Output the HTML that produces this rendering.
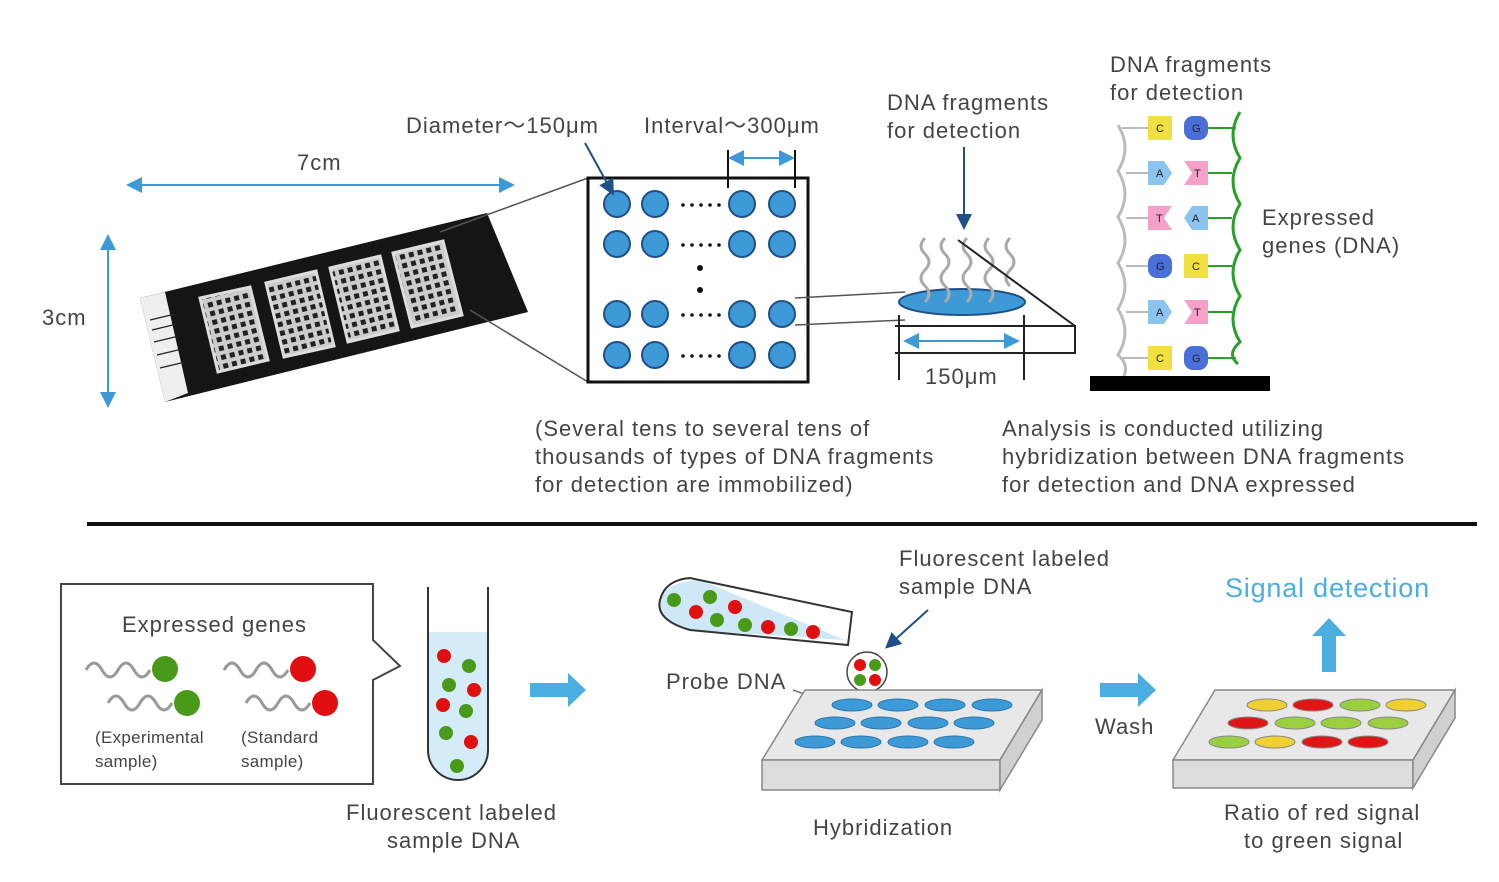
<!DOCTYPE html><html><head><style>body{margin:0;background:#fff}svg{display:block}text{font-family:"Liberation Sans",sans-serif;fill:#444;font-size:22px;letter-spacing:1px}</style></head><body>
<svg width="1499" height="882" viewBox="0 0 1499 882" xmlns="http://www.w3.org/2000/svg">
<defs>
<marker id="ab" markerWidth="8" markerHeight="8" refX="6" refY="4" orient="auto-start-reverse"><path d="M0,0L8,4L0,8z" fill="#3d9ad6"/></marker>
<marker id="ad" markerWidth="8" markerHeight="8" refX="6" refY="4" orient="auto"><path d="M0,0L8,4L0,8z" fill="#1f4f86"/></marker>
<pattern id="grid" width="9" height="9" patternUnits="userSpaceOnUse" patternTransform="rotate(-14)"><rect width="9" height="9" fill="#ccc"/><rect x="2" y="2" width="5" height="5" fill="#222"/></pattern>
</defs>
<line x1="130" y1="185" x2="511" y2="185" stroke="#3d9ad6" stroke-width="2" marker-start="url(#ab)" marker-end="url(#ab)"/>
<text x="297" y="170">7cm</text>
<line x1="108" y1="238" x2="108" y2="404" stroke="#3d9ad6" stroke-width="2" marker-start="url(#ab)" marker-end="url(#ab)"/>
<text x="42" y="325">3cm</text>
<polygon points="140,298 487,213 528,312 165,402" fill="#151515"/>
<polygon points="140,298 165,292 188,393 165,402" fill="#eee"/>
<g stroke="#222" stroke-width="1.2"><line x1="150" y1="320" x2="175" y2="314"/><line x1="152" y1="330" x2="177" y2="324"/><line x1="154" y1="342" x2="179" y2="336"/><line x1="157" y1="355" x2="182" y2="349"/><line x1="160" y1="368" x2="185" y2="362"/></g>
<g fill="url(#grid)" stroke="#ddd" stroke-width="3">
<polygon points="200,298 250,287 268,360 218,372"/>
<polygon points="266,283 316,271 334,346 284,357"/>
<polygon points="330,268 380,256 398,330 348,342"/>
<polygon points="393,253 443,241 462,315 412,327"/>
</g>
<line x1="440" y1="232" x2="588" y2="178" stroke="#555" stroke-width="1.5"/>
<line x1="470" y1="310" x2="588" y2="382" stroke="#555" stroke-width="1.5"/>
<rect x="588" y="178" width="220" height="204" fill="#fff" stroke="#111" stroke-width="3"/>
<g fill="#3d9ad6" stroke="#1f4f86" stroke-width="2">
<circle cx="617" cy="204" r="13"/><circle cx="655" cy="204" r="13"/><circle cx="742" cy="204" r="13"/><circle cx="782" cy="204" r="13"/>
<circle cx="617" cy="244" r="13"/><circle cx="655" cy="244" r="13"/><circle cx="742" cy="244" r="13"/><circle cx="782" cy="244" r="13"/>
<circle cx="617" cy="314" r="13"/><circle cx="655" cy="314" r="13"/><circle cx="742" cy="314" r="13"/><circle cx="782" cy="314" r="13"/>
<circle cx="617" cy="355" r="13"/><circle cx="655" cy="355" r="13"/><circle cx="742" cy="355" r="13"/><circle cx="782" cy="355" r="13"/>
</g>
<g fill="#111"><circle cx="700" cy="268" r="3"/><circle cx="700" cy="290" r="3"/>
<g id="dd"><circle cx="683" cy="205" r="1.8"/><circle cx="692" cy="205" r="1.8"/><circle cx="701" cy="205" r="1.8"/><circle cx="710" cy="205" r="1.8"/><circle cx="719" cy="205" r="1.8"/></g>
<use href="#dd" y="40"/><use href="#dd" y="110"/><use href="#dd" y="151"/></g>
<text x="406" y="133">Diameter～150μm</text>
<line x1="585" y1="143" x2="612" y2="192" stroke="#1f4f86" stroke-width="2" marker-end="url(#ad)"/>
<text x="644" y="133">Interval～300μm</text>
<line x1="728" y1="150" x2="728" y2="188" stroke="#111" stroke-width="2"/><line x1="795" y1="150" x2="795" y2="188" stroke="#111" stroke-width="2"/>
<line x1="732" y1="158" x2="791" y2="158" stroke="#3d9ad6" stroke-width="2" marker-start="url(#ab)" marker-end="url(#ab)"/>
<line x1="795" y1="298" x2="905" y2="292" stroke="#555" stroke-width="1.5"/>
<line x1="795" y1="325" x2="905" y2="320" stroke="#555" stroke-width="1.5"/>
<ellipse cx="962" cy="302" rx="63" ry="13" fill="#3d9ad6" stroke="#1f4f86" stroke-width="2"/>
<g fill="none" stroke="#aaa" stroke-width="3">
<path d="M925,238 q-8,8 0,16 q8,8 0,16 q-8,8 0,16 q8,8 0,16"/><path d="M945,238 q-8,8 0,16 q8,8 0,16 q-8,8 0,16 q8,8 0,16"/><path d="M967,238 q-8,8 0,16 q8,8 0,16 q-8,8 0,16 q8,8 0,16"/><path d="M989,238 q-8,8 0,16 q8,8 0,16 q-8,8 0,16 q8,8 0,16"/><path d="M1010,238 q-8,8 0,16 q8,8 0,16 q-8,8 0,16"/>
</g>
<g stroke="#222" stroke-width="2" fill="none"><line x1="958" y1="240" x2="1075" y2="326"/><path d="M895,326 H1075 V353 H895"/><line x1="899" y1="315" x2="899" y2="380"/><line x1="1024" y1="315" x2="1024" y2="380"/></g>
<line x1="907" y1="341" x2="1016" y2="341" stroke="#3d9ad6" stroke-width="2" marker-start="url(#ab)" marker-end="url(#ab)"/>
<text x="925" y="384">150μm</text>
<text x="887" y="110">DNA fragments</text><text x="887" y="138">for detection</text>
<line x1="964" y1="147" x2="964" y2="226" stroke="#1f4f86" stroke-width="2" marker-end="url(#ad)"/>
<text x="1110" y="72">DNA fragments</text><text x="1110" y="100">for detection</text>
<path d="M1118,125 q14,23 0,46 q14,23 0,46 q14,23 0,46 q14,23 0,46 q14,23 0,46 q14,12 2,28" fill="none" stroke="#bbb" stroke-width="3"/>
<path d="M1240,112 q-14,23 0,46 q-14,23 0,46 q-14,23 0,46 q-14,23 0,46 q-14,23 0,46 q-14,12 -2,22" fill="none" stroke="#2aa02a" stroke-width="3"/>
<g stroke="#bbb" stroke-width="2"><line x1="1122" y1="128" x2="1150" y2="128"/><line x1="1126" y1="173" x2="1150" y2="173"/><line x1="1126" y1="218" x2="1150" y2="218"/><line x1="1126" y1="266" x2="1150" y2="266"/><line x1="1126" y1="312" x2="1150" y2="312"/><line x1="1122" y1="358" x2="1150" y2="358"/></g>
<g stroke="#2aa02a" stroke-width="2"><line x1="1208" y1="128" x2="1236" y2="128"/><line x1="1208" y1="173" x2="1232" y2="173"/><line x1="1208" y1="218" x2="1232" y2="218"/><line x1="1208" y1="266" x2="1232" y2="266"/><line x1="1208" y1="312" x2="1232" y2="312"/><line x1="1208" y1="358" x2="1236" y2="358"/></g>
<rect x="1148" y="116" width="24" height="24" fill="#f0e040"/><rect x="1184" y="116" width="24" height="24" rx="9" fill="#4a6fd8"/>
<path d="M1148,161h16l8,12l-8,12h-16z" fill="#8cc4f0"/><path d="M1184,161h24v24h-24l8,-12z" fill="#f4a0c8"/>
<path d="M1148,206h24l-8,12l8,12h-24z" fill="#f4a0c8"/><path d="M1192,206h16v24h-16l-8,-12z" fill="#8cc4f0"/>
<rect x="1148" y="254" width="24" height="24" rx="9" fill="#4a6fd8"/><rect x="1184" y="254" width="24" height="24" fill="#f0e040"/>
<path d="M1148,300h16l8,12l-8,12h-16z" fill="#8cc4f0"/><path d="M1184,300h24v24h-24l8,-12z" fill="#f4a0c8"/>
<rect x="1148" y="346" width="24" height="24" fill="#f0e040"/><rect x="1184" y="346" width="24" height="24" rx="9" fill="#4a6fd8"/>
<g>
<text x="1156" y="132" style="font-size:11px;fill:#222;letter-spacing:0">C</text><text x="1192" y="132" style="font-size:11px;fill:#222;letter-spacing:0">G</text>
<text x="1156" y="177" style="font-size:11px;fill:#222;letter-spacing:0">A</text><text x="1194" y="177" style="font-size:11px;fill:#222;letter-spacing:0">T</text>
<text x="1156" y="222" style="font-size:11px;fill:#222;letter-spacing:0">T</text><text x="1192" y="222" style="font-size:11px;fill:#222;letter-spacing:0">A</text>
<text x="1156" y="270" style="font-size:11px;fill:#222;letter-spacing:0">G</text><text x="1192" y="270" style="font-size:11px;fill:#222;letter-spacing:0">C</text>
<text x="1156" y="316" style="font-size:11px;fill:#222;letter-spacing:0">A</text><text x="1194" y="316" style="font-size:11px;fill:#222;letter-spacing:0">T</text>
<text x="1156" y="362" style="font-size:11px;fill:#222;letter-spacing:0">C</text><text x="1192" y="362" style="font-size:11px;fill:#222;letter-spacing:0">G</text>
</g>
<rect x="1090" y="376" width="180" height="15" fill="#000"/>
<text x="1262" y="225">Expressed</text><text x="1262" y="253">genes (DNA)</text>
<text x="535" y="436">(Several tens to several tens of</text><text x="535" y="464">thousands of types of DNA fragments</text><text x="535" y="492">for detection are immobilized)</text>
<text x="1002" y="436">Analysis is conducted utilizing</text><text x="1002" y="464">hybridization between DNA fragments</text><text x="1002" y="492">for detection and DNA expressed</text>
<line x1="87" y1="524" x2="1477" y2="524" stroke="#111" stroke-width="4"/>
<path d="M61,584 H373 V640 L400,666 L373,680 V784 H61 Z" fill="#fff" stroke="#444" stroke-width="2"/>
<text x="122" y="632">Expressed genes</text>
<g fill="none" stroke="#999" stroke-width="3">
<path d="M86,670 q8,-14 16,0 q8,14 16,0 q8,-14 16,0 q8,14 16,0"/><path d="M108,703 q8,-14 16,0 q8,14 16,0 q8,-14 16,0 q8,14 16,0"/>
<path d="M224,670 q8,-14 16,0 q8,14 16,0 q8,-14 16,0 q8,14 16,0"/><path d="M246,703 q8,-14 16,0 q8,14 16,0 q8,-14 16,0 q8,14 16,0"/>
</g>
<circle cx="165" cy="669" r="13" fill="#4a9a1a"/><circle cx="187" cy="703" r="13" fill="#4a9a1a"/>
<circle cx="303" cy="669" r="13" fill="#e01010"/><circle cx="325" cy="703" r="13" fill="#e01010"/>
<text x="95" y="743" style="font-size:17px;letter-spacing:0.3px">(Experimental</text><text x="95" y="767" style="font-size:17px;letter-spacing:0.3px">sample)</text><text x="241" y="743" style="font-size:17px;letter-spacing:0.3px">(Standard</text><text x="241" y="767" style="font-size:17px;letter-spacing:0.3px">sample)</text>
<path d="M428,632 V750 a30,30 0 0 0 60,0 V632 Z" fill="#d4ecf8"/>
<path d="M428,587 V750 a30,30 0 0 0 60,0 V587" fill="none" stroke="#333" stroke-width="2"/>
<g><circle cx="444" cy="656" r="7" fill="#e01010"/><circle cx="469" cy="666" r="7" fill="#4a9a1a"/><circle cx="449" cy="685" r="7" fill="#4a9a1a"/><circle cx="474" cy="690" r="7" fill="#e01010"/><circle cx="443" cy="705" r="7" fill="#e01010"/><circle cx="466" cy="711" r="7" fill="#4a9a1a"/><circle cx="446" cy="733" r="7" fill="#4a9a1a"/><circle cx="471" cy="742" r="7" fill="#e01010"/><circle cx="457" cy="766" r="7" fill="#4a9a1a"/></g>
<path d="M530,683 h38 v-10 l18,17 l-18,17 v-10 h-38z" fill="#4aaee0"/>
<text x="346" y="820">Fluorescent labeled</text><text x="387" y="848">sample DNA</text>
<path d="M700,580 L845,640 L690,630 Q655,620 660,600 Q665,582 700,580Z" fill="#cfe8f7"/>
<path d="M852,612 L848,645 L690,630 Q655,620 660,600 Q665,580 690,578 Z" fill="none" stroke="#333" stroke-width="2"/>
<g><circle cx="674" cy="600" r="7" fill="#4a9a1a"/><circle cx="710" cy="597" r="7" fill="#4a9a1a"/><circle cx="696" cy="612" r="7" fill="#e01010"/><circle cx="735" cy="607" r="7" fill="#e01010"/><circle cx="717" cy="620" r="7" fill="#4a9a1a"/><circle cx="745" cy="625" r="7" fill="#4a9a1a"/><circle cx="768" cy="627" r="7" fill="#e01010"/><circle cx="791" cy="629" r="7" fill="#4a9a1a"/><circle cx="813" cy="632" r="7" fill="#e01010"/></g>
<circle cx="867" cy="672" r="20" fill="#fff" stroke="#444" stroke-width="1.5"/>
<circle cx="860" cy="665" r="6" fill="#e01010"/><circle cx="875" cy="665" r="6" fill="#4a9a1a"/><circle cx="860" cy="680" r="6" fill="#4a9a1a"/><circle cx="875" cy="680" r="6" fill="#e01010"/>
<text x="899" y="566">Fluorescent labeled</text><text x="899" y="594">sample DNA</text>
<line x1="928" y1="610" x2="888" y2="646" stroke="#1f4f86" stroke-width="2" marker-end="url(#ad)"/>
<text x="666" y="689">Probe DNA</text>
<line x1="793" y1="690" x2="832" y2="704" stroke="#777" stroke-width="1.5"/>
<g stroke="#888" stroke-width="1.5"><polygon points="805,690 1042,690 1000,760 762,760" fill="#e8e8e8"/><rect x="762" y="760" width="238" height="30" fill="#dcdcdc"/><polygon points="1000,760 1042,690 1042,720 1000,790" fill="#d0d0d0"/></g>
<g fill="#3d9ad6" stroke="#2a78b0"><ellipse cx="852" cy="705" rx="20" ry="6"/><ellipse cx="898" cy="705" rx="20" ry="6"/><ellipse cx="945" cy="705" rx="20" ry="6"/><ellipse cx="992" cy="705" rx="20" ry="6"/>
<ellipse cx="835" cy="723" rx="20" ry="6"/><ellipse cx="881" cy="723" rx="20" ry="6"/><ellipse cx="928" cy="723" rx="20" ry="6"/><ellipse cx="974" cy="723" rx="20" ry="6"/>
<ellipse cx="815" cy="742" rx="20" ry="6"/><ellipse cx="861" cy="742" rx="20" ry="6"/><ellipse cx="908" cy="742" rx="20" ry="6"/><ellipse cx="954" cy="742" rx="20" ry="6"/></g>
<text x="813" y="835">Hybridization</text>
<path d="M1100,683 h38 v-10 l18,17 l-18,17 v-10 h-38z" fill="#4aaee0"/>
<text x="1095" y="734">Wash</text>
<g stroke="#888" stroke-width="1.5"><polygon points="1215,690 1455,690 1413,760 1173,760" fill="#e8e8e8"/><rect x="1173" y="760" width="240" height="28" fill="#dcdcdc"/><polygon points="1413,760 1455,690 1455,718 1413,788" fill="#d0d0d0"/></g>
<g stroke="#888"><ellipse cx="1267" cy="705" rx="20" ry="6" fill="#f0d030"/><ellipse cx="1313" cy="705" rx="20" ry="6" fill="#e01515"/><ellipse cx="1360" cy="705" rx="20" ry="6" fill="#9ad040"/><ellipse cx="1406" cy="705" rx="20" ry="6" fill="#f0d030"/>
<ellipse cx="1248" cy="723" rx="20" ry="6" fill="#e01515"/><ellipse cx="1295" cy="723" rx="20" ry="6" fill="#9ad040"/><ellipse cx="1341" cy="723" rx="20" ry="6" fill="#9ad040"/><ellipse cx="1388" cy="723" rx="20" ry="6" fill="#9ad040"/>
<ellipse cx="1229" cy="742" rx="20" ry="6" fill="#9ad040"/><ellipse cx="1275" cy="742" rx="20" ry="6" fill="#f0d030"/><ellipse cx="1322" cy="742" rx="20" ry="6" fill="#e01515"/><ellipse cx="1368" cy="742" rx="20" ry="6" fill="#e01515"/></g>
<path d="M1322,672 v-36 h-10 l17,-18 l17,18 h-10 v36z" fill="#4aaee0"/>
<text x="1225" y="597" style="font-size:27px;fill:#4aaee0;letter-spacing:0.8px">Signal detection</text>
<text x="1224" y="820">Ratio of red signal</text><text x="1244" y="848">to green signal</text>
</svg></body></html>
